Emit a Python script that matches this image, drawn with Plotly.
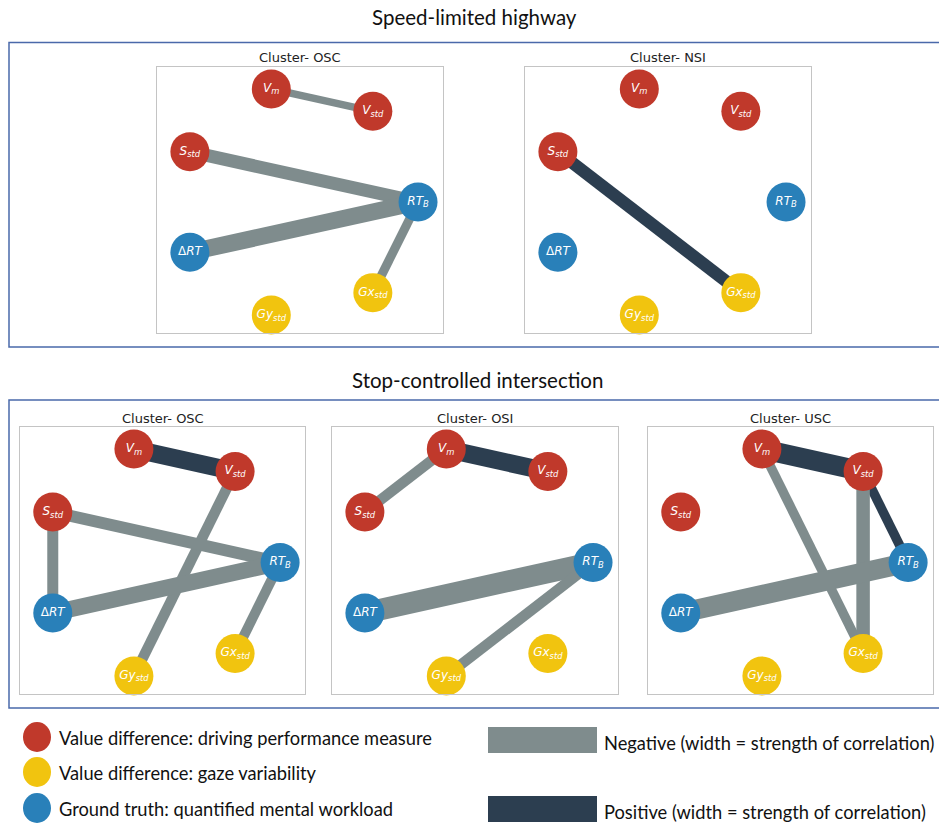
import numpy as np
import plotly.graph_objects as go

W, H = 939, 824

# ---------------- data ----------------
node_names = ["RTB", "Vstd", "Vm", "Sstd", "dRT", "Gystd", "Gxstd"]
node_labels = {
    "RTB": "<i>RT</i><sub><i>B</i></sub>",
    "Vstd": "<i>V</i><sub><i>std</i></sub>",
    "Vm": "<i>V</i><sub><i>m</i></sub>",
    "Sstd": "<i>S</i><sub><i>std</i></sub>",
    "dRT": "Δ<i>RT</i>",
    "Gystd": "<i>Gy</i><sub><i>std</i></sub>",
    "Gxstd": "<i>Gx</i><sub><i>std</i></sub>",
}
node_group = {"RTB": "truth", "dRT": "truth", "Vstd": "drive", "Vm": "drive",
              "Sstd": "drive", "Gystd": "gaze", "Gxstd": "gaze"}
group_color = {"drive": "#c0392b", "gaze": "#f1c40f", "truth": "#2980b9"}

main_titles = ["Speed-limited highway", "Stop-controlled intersection"]
panel_titles = ["Cluster- OSC", "Cluster- NSI", "Cluster- OSC", "Cluster- OSI", "Cluster- USC"]

# correlation coefficients (sign -> colour, magnitude -> width)
edges_hw_osc = [("Vm", "Vstd", -0.30), ("Sstd", "RTB", -0.52), ("dRT", "RTB", -0.68), ("RTB", "Gxstd", -0.36)]
edges_hw_nsi = [("Sstd", "Gxstd", 0.50)]
edges_sc_osc = [("Vm", "Vstd", 0.72), ("Vstd", "Gystd", -0.42), ("Sstd", "RTB", -0.48),
                ("Sstd", "dRT", -0.44), ("dRT", "RTB", -0.66), ("RTB", "Gxstd", -0.40)]
edges_sc_osi = [("Vm", "Vstd", 0.72), ("Vm", "Sstd", -0.42), ("dRT", "RTB", -0.86), ("RTB", "Gystd", -0.42)]
edges_sc_usc = [("Vm", "Vstd", 0.80), ("Vstd", "RTB", 0.38), ("Vm", "Gxstd", -0.38),
                ("Vstd", "Gxstd", -0.54), ("dRT", "RTB", -0.80)]
panel_edges = [edges_hw_osc, edges_hw_nsi, edges_sc_osc, edges_sc_osi, edges_sc_usc]

legend_nodes = ["Value difference: driving performance measure",
                "Value difference: gaze variability",
                "Ground truth: quantified mental workload"]
legend_edges = ["Negative (width = strength of correlation)",
                "Positive (width = strength of correlation)"]

NEG_COLOR, POS_COLOR = "#7f8c8d", "#2c3e50"
WIDTH_SCALE = 25

# ---------------- layout helpers ----------------
def px(x):
    return x / W

def py(y):
    return 1 - y / H

# panel frames in pixels (x0, x1, y0, y1)
frames = [(157, 443, 67, 333), (525, 811, 67, 333),
          (20, 305, 427, 694), (332, 618, 427, 694), (648, 933, 427, 694)]

# circular layout
n = len(node_names)
ang = 2 * np.pi * np.arange(n) / n
pos = {name: (np.cos(a), np.sin(a)) for name, a in zip(node_names, ang)}

fig = go.Figure()
layout = dict(width=W, height=H, margin=dict(l=0, r=0, t=0, b=0),
              paper_bgcolor="white", plot_bgcolor="white", showlegend=False)
annotations, shapes = [], []

for i, (fr, edges, title) in enumerate(zip(frames, panel_edges, panel_titles)):
    k = "" if i == 0 else str(i + 1)
    xa, ya = "x" + k, "y" + k
    ax = dict(domain=[px(fr[0]), px(fr[1])], showgrid=False, zeroline=False,
              showticklabels=False, ticks="", showline=True, mirror=True,
              linecolor="#c4c4c4", linewidth=1, fixedrange=True)
    layout["xaxis" + k] = dict(ax, range=[-1.175, 1.208], anchor=ya)
    layout["yaxis" + k] = dict(ax, domain=[py(fr[3]), py(fr[2])], range=[-1.13, 1.164], anchor=xa)
    for a, b, r in edges:
        fig.add_trace(go.Scatter(x=[pos[a][0], pos[b][0]], y=[pos[a][1], pos[b][1]],
                                 mode="lines", xaxis=xa, yaxis=ya, hoverinfo="skip",
                                 line=dict(color=NEG_COLOR if r < 0 else POS_COLOR,
                                           width=WIDTH_SCALE * abs(r))))
    fig.add_trace(go.Scatter(
        x=[pos[nm][0] for nm in node_names], y=[pos[nm][1] for nm in node_names],
        mode="markers+text", xaxis=xa, yaxis=ya, hoverinfo="skip", cliponaxis=False,
        marker=dict(size=39, color=[group_color[node_group[nm]] for nm in node_names],
                    line=dict(width=0)),
        text=[node_labels[nm] for nm in node_names], textposition="middle center",
        textfont=dict(color="white", size=12, family="DejaVu Sans")))
    annotations.append(dict(text=title, x=px((fr[0] + fr[1]) / 2), y=py(fr[2] - 9),
                            xref="paper", yref="paper", showarrow=False,
                            xanchor="center", yanchor="middle",
                            font=dict(family="DejaVu Sans", size=13, color="#222")))

# section titles and boxes
annotations.append(dict(text=main_titles[0], x=px(474), y=py(17), xref="paper", yref="paper",
                        xanchor="center", yanchor="middle",
                        showarrow=False, font=dict(family="Lato", size=20.5, color="#111")))
annotations.append(dict(text=main_titles[1], x=px(477), y=py(380), xref="paper", yref="paper",
                        xanchor="center", yanchor="middle",
                        showarrow=False, font=dict(family="Lato", size=20.5, color="#111")))
box_line = dict(color="#4a69aa", width=1.5)
shapes.append(dict(type="rect", xref="paper", yref="paper", x0=px(9), x1=px(945),
                   y0=py(347), y1=py(42.5), line=box_line, layer="below"))
shapes.append(dict(type="rect", xref="paper", yref="paper", x0=px(9), x1=px(945),
                   y0=py(708), y1=py(400), line=box_line, layer="below"))

# legend: nodes
leg_y = [737, 772, 808]
for txt, grp, yy in zip(legend_nodes, ["drive", "gaze", "truth"], leg_y):
    shapes.append(dict(type="circle", xref="paper", yref="paper",
                       x0=px(23), x1=px(51), y0=py(yy + 15), y1=py(yy - 15),
                       fillcolor=group_color[grp], line=dict(width=0)))
    annotations.append(dict(text=txt, x=px(57), y=py(yy + 1), xref="paper", yref="paper",
                            xanchor="left", yanchor="middle", showarrow=False,
                            font=dict(family="Lato", size=18.3, color="#111")))
# legend: edges
for txt, col, yy in zip(legend_edges, [NEG_COLOR, POS_COLOR], [740, 809]):
    shapes.append(dict(type="rect", xref="paper", yref="paper",
                       x0=px(488), x1=px(597), y0=py(yy + 13), y1=py(yy - 13),
                       fillcolor=col, line=dict(width=0)))
    annotations.append(dict(text=txt, x=px(602), y=py(yy + 3), xref="paper", yref="paper",
                            xanchor="left", yanchor="middle", showarrow=False,
                            font=dict(family="Lato", size=18.3, color="#111")))

layout["annotations"] = annotations
layout["shapes"] = shapes
fig.update_layout(**layout)
fig.write_html("out.html")
